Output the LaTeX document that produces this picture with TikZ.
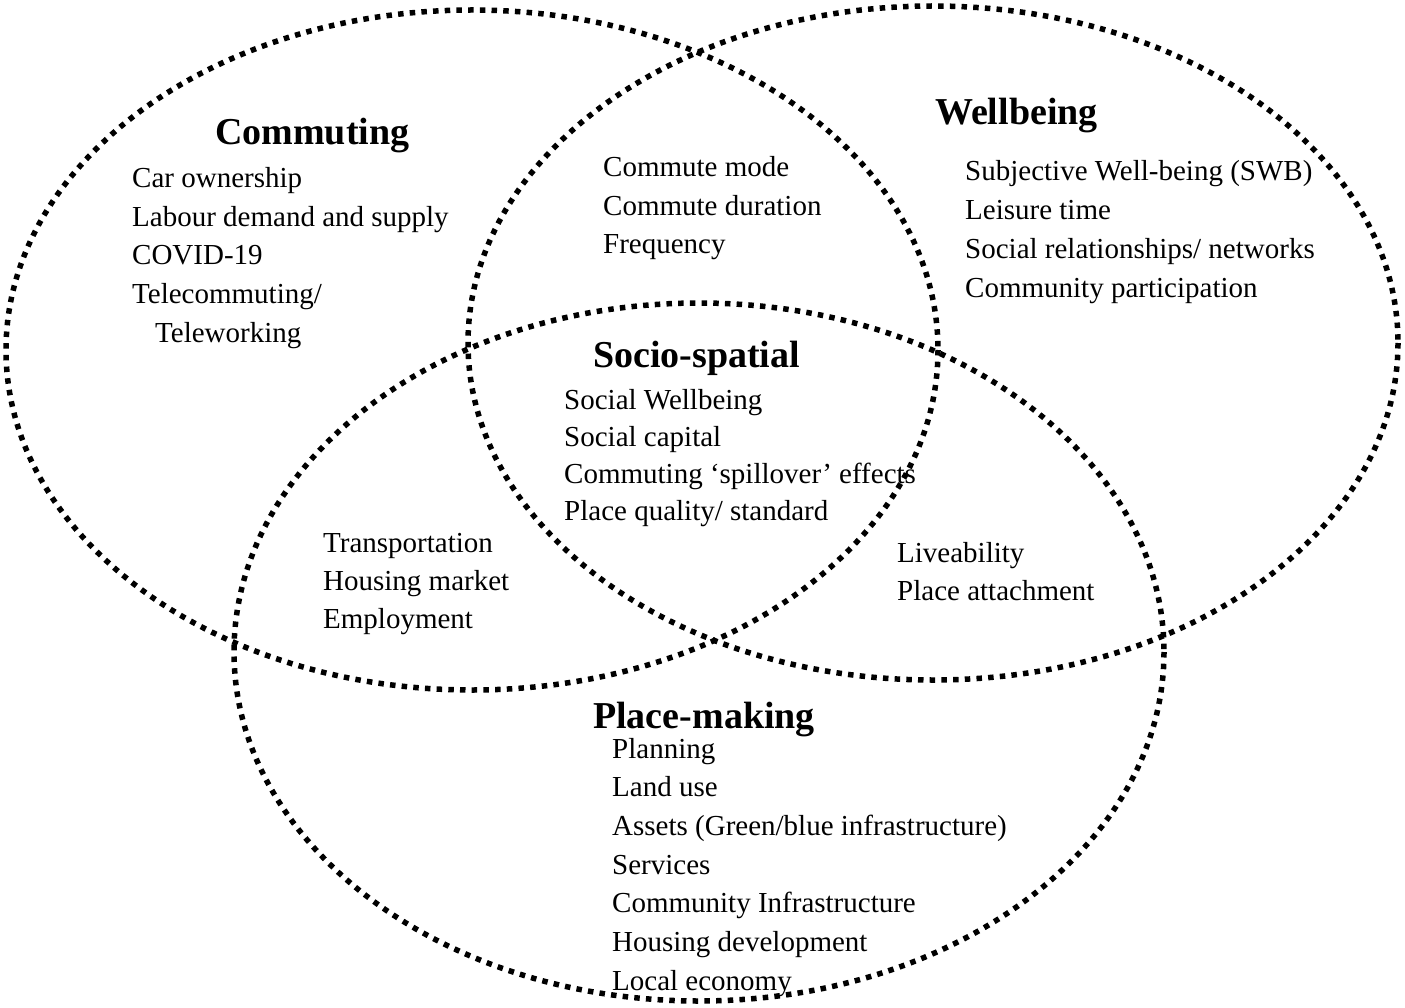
\documentclass[tikz,border=0pt]{standalone}
\usepackage{fontspec}
\setmainfont{Liberation Serif}
\usepackage{tikz}
\usetikzlibrary{positioning}

\begin{document}
\begin{tikzpicture}[
    x = 1pt, y = -1pt,
    venn/.style = {draw, line width=5.5pt, dash pattern=on 5.5pt off 6.2pt},
    title/.style = {inner sep=0pt, anchor=base west,
        font=\fontsize{38}{45}\selectfont\bfseries},
    item/.style = {inner sep=0pt, anchor=base west,
        font=\fontsize{29}{35}\selectfont}
  ]
  \useasboundingbox (0,0) rectangle (1405,1008);

  % the three sets
  \draw[venn] (472,350) ellipse (466 and 340);
  \draw[venn] (933,343) ellipse (465 and 337);
  \draw[venn] (699,652) ellipse (465 and 349);

  % Commuting
  \node[title] (commuting) at (215,145) {Commuting};
  \foreach \t [count=\j from 0] in {Car ownership, Labour demand and supply, COVID-19, Telecommuting/}
  \node[item] (comm-\j) at (132,188+38.5*\j) {\t};
  \node[item] (comm-4) at (155,342) {Teleworking};

  % Commuting and Wellbeing
  \foreach \t [count=\j from 0] in {Commute mode, Commute duration, Frequency}
  \node[item] (cw-\j) at (603,177+38.5*\j) {\t};

  % Wellbeing
  \node[title] (wellbeing) at (935,125) {Wellbeing};
  \foreach \t [count=\j from 0] in {Subjective Well-being (SWB), Leisure time, Social relationships/ networks, Community participation}
  \node[item] (well-\j) at (965,181+38.7*\j) {\t};

  % all three
  \node[title] (socio) at (593,367) {Socio-spatial};
  \foreach \t [count=\j from 0] in {Social Wellbeing, Social capital, Commuting ‘spillover’ effects, Place quality/ standard}
  \node[item] (socio-\j) at (564,409+37*\j) {\t};

  % Commuting and Place-making
  \foreach \t [count=\j from 0] in {Transportation, Housing market, Employment}
  \node[item] (cp-\j) at (323,552+38*\j) {\t};

  % Wellbeing and Place-making
  \foreach \t [count=\j from 0] in {Liveability, Place attachment}
  \node[item] (wp-\j) at (897,562+38*\j) {\t};

  % Place-making
  \node[title] (place) at (593,728) {Place-making};
  \foreach \t [count=\j from 0] in {Planning, Land use, Assets (Green/blue infrastructure), Services, Community Infrastructure, Housing development, Local economy}
  \node[item] (place-\j) at (612,758+38.7*\j) {\t};
\end{tikzpicture}
\end{document}
